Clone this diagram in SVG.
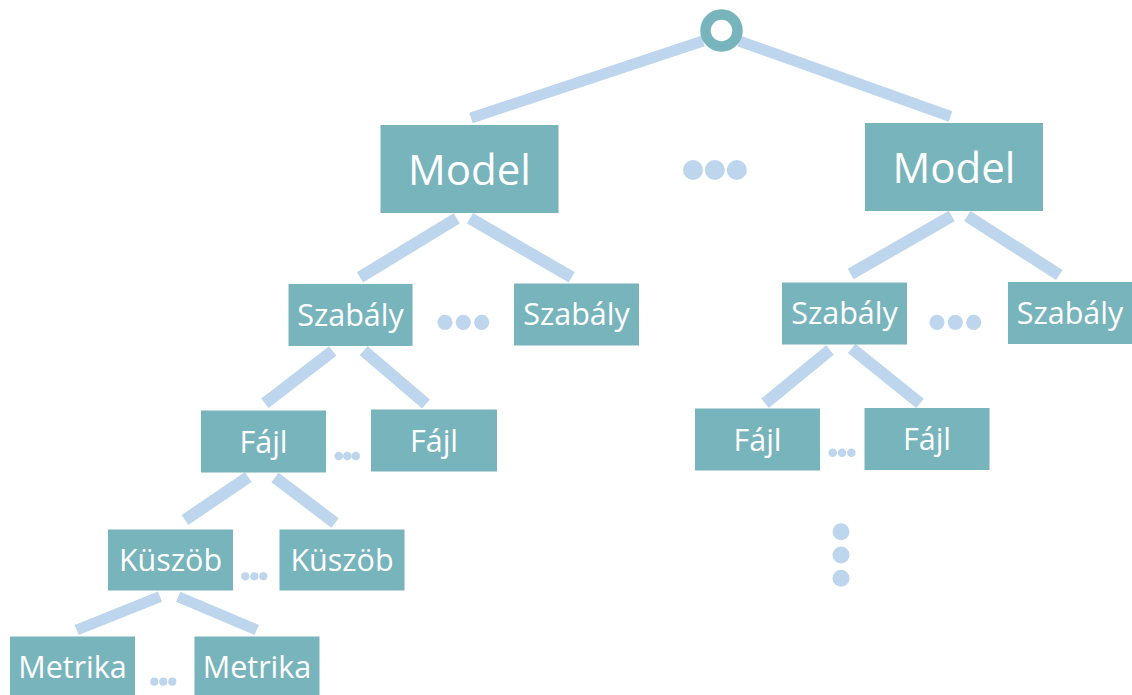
<svg xmlns="http://www.w3.org/2000/svg" width="1132" height="695" viewBox="0 0 1132 695">
  <style>
    .box { fill: #78B4BC; }
    .lbl { fill: #FFFFFF; font-family: "Open Sans", "Noto Sans", sans-serif; font-size: 30.5px; text-anchor: middle; }
    .big { font-size: 42px; }
    .edge { stroke: #BDD6EE; stroke-width: 12; fill: none; stroke-linecap: butt; }
    .thin { stroke-width: 11; }
    .dot { fill: #BDD6EE; }
  </style>

  <rect width="1132" height="695" fill="#FFFFFF"/>

  <!-- connectors -->
  <g id="connectors">
    <line class="edge thin" x1="471" y1="118" x2="703" y2="41"/>
    <line class="edge thin" x1="739" y1="41" x2="950.5" y2="116.5"/>
    <line class="edge" x1="456.7" y1="218.3" x2="360" y2="277.3"/>
    <line class="edge" x1="470" y1="218.3" x2="571.7" y2="277.3"/>
    <line class="edge" x1="951.7" y1="216" x2="850.7" y2="274"/>
    <line class="edge" x1="967.3" y1="216" x2="1059.3" y2="275"/>
    <line class="edge" x1="332.7" y1="351" x2="265" y2="403.3"/>
    <line class="edge" x1="363.7" y1="350.7" x2="426" y2="404"/>
    <line class="edge" x1="830" y1="350" x2="765" y2="403.3"/>
    <line class="edge" x1="851.7" y1="348.3" x2="920" y2="403.3"/>
    <line class="edge" x1="248.3" y1="477" x2="185" y2="520"/>
    <line class="edge" x1="275" y1="477.5" x2="335" y2="523"/>
    <line class="edge thin" x1="160" y1="596.7" x2="76.7" y2="630"/>
    <line class="edge thin" x1="178.3" y1="596.7" x2="256.7" y2="630"/>
  </g>

  <!-- root -->
  <g id="root">
    <circle cx="721.5" cy="30.5" r="16" fill="none" stroke="#78B4BC" stroke-width="10.5"/>
  </g>

  <!-- models -->
  <g id="model-1">
    <rect class="box" x="380.5" y="125" width="178" height="88"/>
    <text class="lbl big" x="469.5" y="184.5">Model</text>
  </g>
  <g id="model-2">
    <rect class="box" x="865" y="123" width="178" height="88"/>
    <text class="lbl big" x="954" y="182.5">Model</text>
  </g>

  <!-- rules -->
  <g id="rule-1">
    <rect class="box" x="288.5" y="284" width="124" height="62"/>
    <text class="lbl" x="350.5" y="325.5">Szabály</text>
  </g>
  <g id="rule-2">
    <rect class="box" x="514" y="283.5" width="125" height="62"/>
    <text class="lbl" x="576.5" y="325">Szabály</text>
  </g>
  <g id="rule-3">
    <rect class="box" x="782" y="282.5" width="125" height="62"/>
    <text class="lbl" x="844.5" y="324">Szabály</text>
  </g>
  <g id="rule-4">
    <rect class="box" x="1008" y="282" width="124" height="62"/>
    <text class="lbl" x="1070" y="323.5">Szabály</text>
  </g>

  <!-- files -->
  <g id="file-1">
    <rect class="box" x="201" y="410.5" width="125" height="62"/>
    <text class="lbl" x="263.5" y="452.5">Fájl</text>
  </g>
  <g id="file-2">
    <rect class="box" x="371" y="409.5" width="126" height="62"/>
    <text class="lbl" x="434" y="451.5">Fájl</text>
  </g>
  <g id="file-3">
    <rect class="box" x="695" y="408.5" width="125" height="62"/>
    <text class="lbl" x="757.5" y="450.5">Fájl</text>
  </g>
  <g id="file-4">
    <rect class="box" x="864.5" y="408" width="125" height="62"/>
    <text class="lbl" x="927" y="450">Fájl</text>
  </g>

  <!-- thresholds -->
  <g id="threshold-1">
    <rect class="box" x="108" y="529.5" width="125" height="61"/>
    <text class="lbl" x="170.5" y="570.5">Küszöb</text>
  </g>
  <g id="threshold-2">
    <rect class="box" x="279.5" y="529.5" width="125" height="61"/>
    <text class="lbl" x="342" y="570.5">Küszöb</text>
  </g>

  <!-- metrics -->
  <g id="metric-1">
    <rect class="box" x="10" y="636.5" width="125" height="62"/>
    <text class="lbl" x="72.5" y="678.3">Metrika</text>
  </g>
  <g id="metric-2">
    <rect class="box" x="194.5" y="636.5" width="125" height="62"/>
    <text class="lbl" x="257" y="678.3">Metrika</text>
  </g>

  <!-- ellipsis marks -->
  <g id="ellipses">
    <circle class="dot" cx="693" cy="170" r="10"/>
    <circle class="dot" cx="714.8" cy="170" r="10"/>
    <circle class="dot" cx="736.8" cy="170" r="10"/>

    <circle class="dot" cx="445" cy="322.3" r="7.6"/>
    <circle class="dot" cx="463.3" cy="322.3" r="7.6"/>
    <circle class="dot" cx="481.7" cy="322.3" r="7.6"/>

    <circle class="dot" cx="937" cy="322.3" r="7.6"/>
    <circle class="dot" cx="955.3" cy="322.3" r="7.6"/>
    <circle class="dot" cx="973.7" cy="322.3" r="7.6"/>

    <circle class="dot" cx="338.7" cy="456" r="4.3"/>
    <circle class="dot" cx="347.3" cy="456" r="4.3"/>
    <circle class="dot" cx="355.7" cy="456" r="4.3"/>

    <circle class="dot" cx="832.7" cy="452.7" r="4.3"/>
    <circle class="dot" cx="842" cy="452.7" r="4.3"/>
    <circle class="dot" cx="851.3" cy="452.7" r="4.3"/>

    <circle class="dot" cx="245.3" cy="576.3" r="4.1"/>
    <circle class="dot" cx="254.3" cy="576.3" r="4.1"/>
    <circle class="dot" cx="263.3" cy="576.3" r="4.1"/>

    <circle class="dot" cx="154.3" cy="681.7" r="4.1"/>
    <circle class="dot" cx="163.3" cy="681.7" r="4.1"/>
    <circle class="dot" cx="172.3" cy="681.7" r="4.1"/>

    <circle class="dot" cx="841" cy="531.7" r="8.5"/>
    <circle class="dot" cx="841" cy="555" r="8.5"/>
    <circle class="dot" cx="841" cy="578.3" r="8.5"/>
  </g>
</svg>
